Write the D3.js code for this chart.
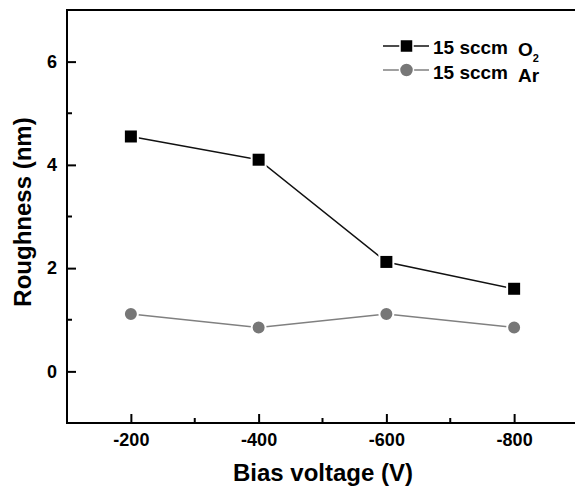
<!DOCTYPE html>
<html>
<head>
<meta charset="utf-8">
<script src="https://cdn.jsdelivr.net/npm/d3@7"></script>
<style>
  body { margin: 0; background: #fff; }
  text { font-family: "Liberation Sans", Arial, sans-serif; font-weight: bold; }
</style>
</head>
<body>
<svg id="chart"></svg>
<script>
// data
const biasVoltage = [-200, -400, -600, -800];
const roughnessO2 = [4.55, 4.10, 2.12, 1.60];
const roughnessAr = [1.11, 0.85, 1.11, 0.85];
const xTicks = [-200, -400, -600, -800];
const xMinorTicks = [-300, -500, -700];
const yTicks = [0, 2, 4, 6];
const yMinorTicks = [-1, 1, 3, 5];

const width = 575, height = 487;
const margin = {left: 67, top: 10, bottom: 64};

const svg = d3.select('#chart')
  .attr('width', width)
  .attr('height', height);

const x = d3.scaleLinear()
  .domain([-100, -900])
  .range([margin.left, 578]);

const y = d3.scaleLinear()
  .domain([-1, 7])
  .range([height - margin.bottom, margin.top]);

// frame (right side is off canvas)
svg.append('path')
  .attr('d', `M${x(-900) + 5},${y(7)} H${x(-100)} V${y(-1)} H${x(-900) + 5}`)
  .attr('fill', 'none')
  .attr('stroke', '#000')
  .attr('stroke-width', 2);

// x axis ticks point inward
const xAxis = svg.append('g')
  .attr('transform', `translate(0,${y(-1)})`)
  .call(d3.axisBottom(x).tickValues(xTicks).tickSize(-9).tickPadding(10).tickFormat(d => String(d)));
xAxis.select('.domain').remove();
xAxis.selectAll('line').attr('stroke-width', 2);
xAxis.selectAll('text').attr('font-size', 18).attr('fill', '#000');

svg.append('g')
  .attr('transform', `translate(0,${y(-1)})`)
  .selectAll('line')
  .data(xMinorTicks)
  .join('line')
  .attr('x1', d => x(d)).attr('x2', d => x(d))
  .attr('y1', 0).attr('y2', -5)
  .attr('stroke', '#000').attr('stroke-width', 2);

// y axis
const yAxis = svg.append('g')
  .attr('transform', `translate(${x(-100)},0)`)
  .call(d3.axisLeft(y).tickValues(yTicks).tickSize(-9).tickPadding(10).tickFormat(d => String(d)));
yAxis.select('.domain').remove();
yAxis.selectAll('line').attr('stroke-width', 2);
yAxis.selectAll('text').attr('font-size', 18).attr('fill', '#000');

svg.append('g')
  .attr('transform', `translate(${x(-100)},0)`)
  .selectAll('line')
  .data(yMinorTicks)
  .join('line')
  .attr('y1', d => y(d)).attr('y2', d => y(d))
  .attr('x1', 0).attr('x2', 5)
  .attr('stroke', '#000').attr('stroke-width', 2);

// axis titles
svg.append('text')
  .attr('x', 323)
  .attr('y', 481)
  .attr('text-anchor', 'middle')
  .attr('font-size', 24)
  .text('Bias voltage (V)');

svg.append('text')
  .attr('transform', 'translate(31,212) rotate(-90)')
  .attr('text-anchor', 'middle')
  .attr('font-size', 24)
  .text('Roughness (nm)');

// series
const line = d3.line()
  .x(d => x(d[0]))
  .y(d => y(d[1]));

const o2 = biasVoltage.map((v, i) => [v, roughnessO2[i]]);
const ar = biasVoltage.map((v, i) => [v, roughnessAr[i]]);

svg.append('path')
  .datum(ar)
  .attr('d', line)
  .attr('fill', 'none')
  .attr('stroke', '#808080')
  .attr('stroke-width', 1.5);

svg.append('path')
  .datum(o2)
  .attr('d', line)
  .attr('fill', 'none')
  .attr('stroke', '#111')
  .attr('stroke-width', 1.5);

svg.selectAll('.ar')
  .data(ar)
  .join('circle')
  .attr('class', 'ar')
  .attr('cx', d => x(d[0]))
  .attr('cy', d => y(d[1]))
  .attr('r', 7)
  .attr('fill', '#777')
  .attr('stroke', '#fff')
  .attr('stroke-width', 2);

svg.selectAll('.o2')
  .data(o2)
  .join('rect')
  .attr('class', 'o2')
  .attr('x', d => x(d[0]) - 7)
  .attr('y', d => y(d[1]) - 7)
  .attr('width', 14)
  .attr('height', 14)
  .attr('fill', '#000')
  .attr('stroke', '#fff')
  .attr('stroke-width', 2);

// legend
const legend = svg.append('g');
const rowO2 = 46, rowAr = 70;

legend.append('line')
  .attr('x1', 383).attr('x2', 429).attr('y1', rowO2).attr('y2', rowO2)
  .attr('stroke', '#111').attr('stroke-width', 1.5);
legend.append('rect')
  .attr('x', 400).attr('y', rowO2 - 6.5).attr('width', 13).attr('height', 13)
  .attr('fill', '#000').attr('stroke', '#fff').attr('stroke-width', 1.5);

legend.append('line')
  .attr('x1', 383).attr('x2', 429).attr('y1', rowAr).attr('y2', rowAr)
  .attr('stroke', '#808080').attr('stroke-width', 1.5);
legend.append('circle')
  .attr('cx', 406.5).attr('cy', rowAr).attr('r', 7)
  .attr('fill', '#777').attr('stroke', '#fff').attr('stroke-width', 1.5);

legend.append('text').attr('x', 433).attr('y', 54).attr('font-size', 19).text('15 sccm');
const o2Label = legend.append('text').attr('x', 518).attr('y', 56).attr('font-size', 19);
o2Label.append('tspan').text('O');
o2Label.append('tspan').attr('font-size', 11).attr('dy', 6).text('2');

legend.append('text').attr('x', 433).attr('y', 79).attr('font-size', 19).text('15 sccm');
legend.append('text').attr('x', 518).attr('y', 82).attr('font-size', 19).text('Ar');
</script>
</body>
</html>
